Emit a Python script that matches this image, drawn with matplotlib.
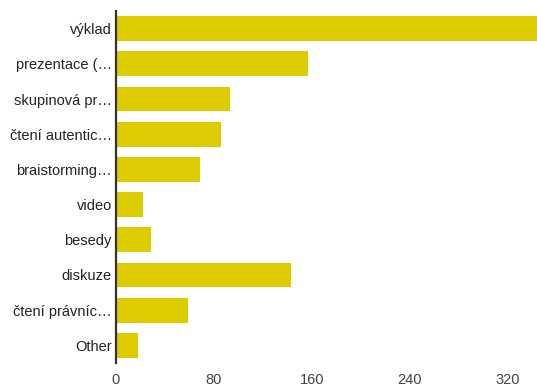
import matplotlib.pyplot as plt

# data
labels = ['výklad', 'prezentace (…', 'skupinová pr…', 'čtení autentic…', 'braistorming…',
          'video', 'besedy', 'diskuze', 'čtení právníc…', 'Other']
values = [345, 157, 93, 86, 69, 22, 29, 143, 59, 18]
ticks = [0, 80, 160, 240, 320]

plt.rcParams['font.family'] = ['Liberation Sans', 'DejaVu Sans']

fig = plt.figure(figsize=(5.37, 3.87), dpi=100)
ax = fig.add_axes([116 / 537, 24 / 387, 421 / 537, 352 / 387])

ax.barh(range(len(labels)), values, height=0.71, color='#DDCC00')
ax.set_ylim(len(labels) - 0.5, -0.5)
ax.set_xlim(0, 344)

ax.set_yticks(range(len(labels)))
ax.set_yticklabels(labels, fontsize=10.5, color='#222222')
ax.set_xticks(ticks)
ax.set_xticklabels([str(t) for t in ticks], fontsize=10.5, color='#444444')
ax.tick_params(axis='y', length=0, pad=3)
ax.tick_params(axis='x', length=0, pad=7)

for s in ['top', 'right', 'bottom']:
    ax.spines[s].set_visible(False)
ax.spines['left'].set_color('#333333')
ax.spines['left'].set_linewidth(1.6)

fig.savefig('out.png', dpi=100)
